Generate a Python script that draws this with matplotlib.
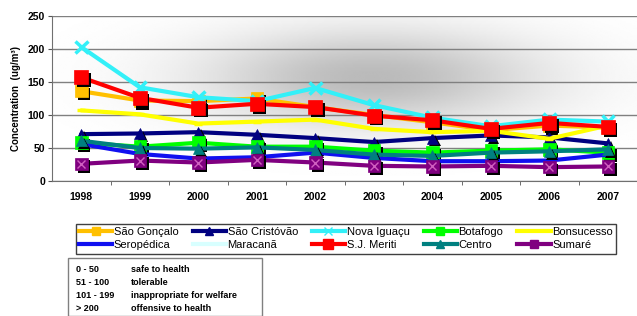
import numpy as np
import matplotlib
matplotlib.use("Agg")
import matplotlib.pyplot as plt
import matplotlib.patheffects as pe
from matplotlib.lines import Line2D
from matplotlib.patches import Rectangle

plt.rcParams['font.family'] = ['Liberation Sans', 'DejaVu Sans']

years = ['1998', '1999', '2000', '2001', '2002', '2003', '2004', '2005', '2006', '2007']

sao_goncalo = [136, 122, 121, 125, 112, 100, 89, 77, 84, 81]
sao_cristovao = [71, 72, 74, 70, 65, 59, 65, 69, 66, 57]
nova_iguacu = [203, 142, 127, 121, 141, 115, 96, 83, 93, 90]
botafogo = [58, 52, 58, 52, 52, 46, 43, 46, 48, 43]
bonsucesso = [107, 101, 87, 90, 93, 79, 74, 76, 64, 84]
seropedica = [56, 41, 34, 36, 43, 35, 30, 30, 31, 40]
maracana = [np.nan] * 10
sj_meriti = [157, 126, 111, 117, 112, 99, 92, 79, 88, 82]
centro = [61, 50, 49, 51, 47, 40, 38, 43, 45, 48]
sumare = [26, 31, 28, 32, 28, 23, 22, 23, 21, 22]

# name, values, colour, marker, marker size
series = [
    ('São Gonçalo', sao_goncalo, '#FFC000', 's', 9),
    ('São Cristóvão', sao_cristovao, '#000080', '^', 8),
    ('Nova Iguaçu', nova_iguacu, '#33F0F8', 'x', 9),
    ('Botafogo', botafogo, '#00FF00', 's', 9),
    ('Bonsucesso', bonsucesso, '#FFFF00', '_', 6),
    ('Seropédica', seropedica, '#1010F0', None, 0),
    ('Maracanã', maracana, '#D8FFFF', '+', 6),
    ('S.J. Meriti', sj_meriti, '#FF0000', 's', 10),
    ('Centro', centro, '#008080', '^', 8),
    ('Sumaré', sumare, '#800080', 's', 9),
]

fig = plt.figure(figsize=(6.37, 3.16), dpi=100)
ax = fig.add_axes([52 / 637, 1 - 181 / 316, 585 / 637, 165 / 316])

# grey shaded background like the excel plot area (row 0 = top)
gx, gy = np.meshgrid(np.linspace(0, 585, 300), np.linspace(0, 165, 120))
shade = 0.27 * np.exp(-(((gx - 320) / 170) ** 2 + ((gy - 62) / 48) ** 2))
ax.imshow(1 - shade, cmap='gray', vmin=0, vmax=1, extent=(-0.5, 9.5, 0, 250),
          aspect='auto', zorder=0, interpolation='bilinear')
ax.set_ylim(0, 250)
ax.set_xlim(-0.5, 9.5)

x = np.arange(len(years))
shadow = [pe.SimplePatchShadow(offset=(2, -2), shadow_rgbFace='black', alpha=1), pe.Normal()]
handles = []
for i, (name, vals, col, mk, ms) in enumerate(series):
    z = 3 + i
    ax.plot(x, vals, color=col, lw=3, zorder=z, solid_capstyle='round')
    if mk is not None:
        lw_m = 2.5 if mk in ('x', '_', '+') else 0.5
        ax.plot(x, vals, ls='None', marker=mk, ms=ms, color=col, mec=col, mew=lw_m,
                zorder=z, path_effects=shadow)
    if name == 'Sumaré':
        ax.plot(x, vals, ls='None', marker='x', ms=6, color='#D060C0', mew=1, zorder=z + 0.5)
    handles.append(Line2D([], [], color=col, lw=3, marker=mk if mk not in ('_', '+') else None,
                          ms=ms * 0.7, mec=col))

ax.set_yticks([0, 50, 100, 150, 200, 250])
ax.set_xticks(x)
ax.set_xticklabels(years, fontweight='bold', fontsize=7.5)
ax.set_xticks(x[:-1] + 0.5, minor=True)
ax.tick_params(axis='x', which='major', length=0, pad=8)
ax.tick_params(axis='x', which='minor', length=3, color='#555555', direction='out')
ax.tick_params(axis='y', length=3, color='#555555', labelsize=7.5, pad=2)
for lab in ax.get_yticklabels():
    lab.set_fontweight('bold')
ax.grid(axis='y', color='#808080', lw=1, zorder=1)
for s in ['top', 'right']:
    ax.spines[s].set_visible(False)
ax.spines['left'].set_color('#707070')
ax.spines['bottom'].set_color('#707070')
ax.set_ylabel('Concentration  (ug/m³)', fontsize=7, fontweight='bold', labelpad=5)

# legend filled row-wise
order = [0, 5, 1, 6, 2, 7, 3, 8, 4, 9]
leg = fig.legend([handles[k] for k in order], [series[k][0] for k in order],
                 ncol=5, loc='upper left', mode='expand',
                 bbox_to_anchor=(70 / 637, 1 - 250 / 316, 552 / 637, 32 / 316),
                 fontsize=8, handlelength=3, handletextpad=0.15, columnspacing=0.5,
                 labelspacing=0.3, borderpad=0.3, fancybox=False, framealpha=1,
                 edgecolor='#404040')
leg.get_frame().set_linewidth(1)

# health-scale box
fig.patches.append(Rectangle((68 / 637, 0), (262 - 68) / 637, (316 - 258) / 316,
                             transform=fig.transFigure, fill=False, ec='#808080', lw=1))
scale_rng = ['0 - 50', '51 - 100', '101 - 199', '> 200']
scale_txt = ['safe to health', 'tolerable', 'inappropriate for welfare', 'offensive to health']
for i, (r, t) in enumerate(zip(scale_rng, scale_txt)):
    yy = 1 - (270 + i * 12.8) / 316
    fig.text(76 / 637, yy, r, fontsize=6.5, fontweight='bold', va='center')
    fig.text(131 / 637, yy, t, fontsize=6.5, fontweight='bold', va='center')

fig.savefig('out.png', dpi=100)
